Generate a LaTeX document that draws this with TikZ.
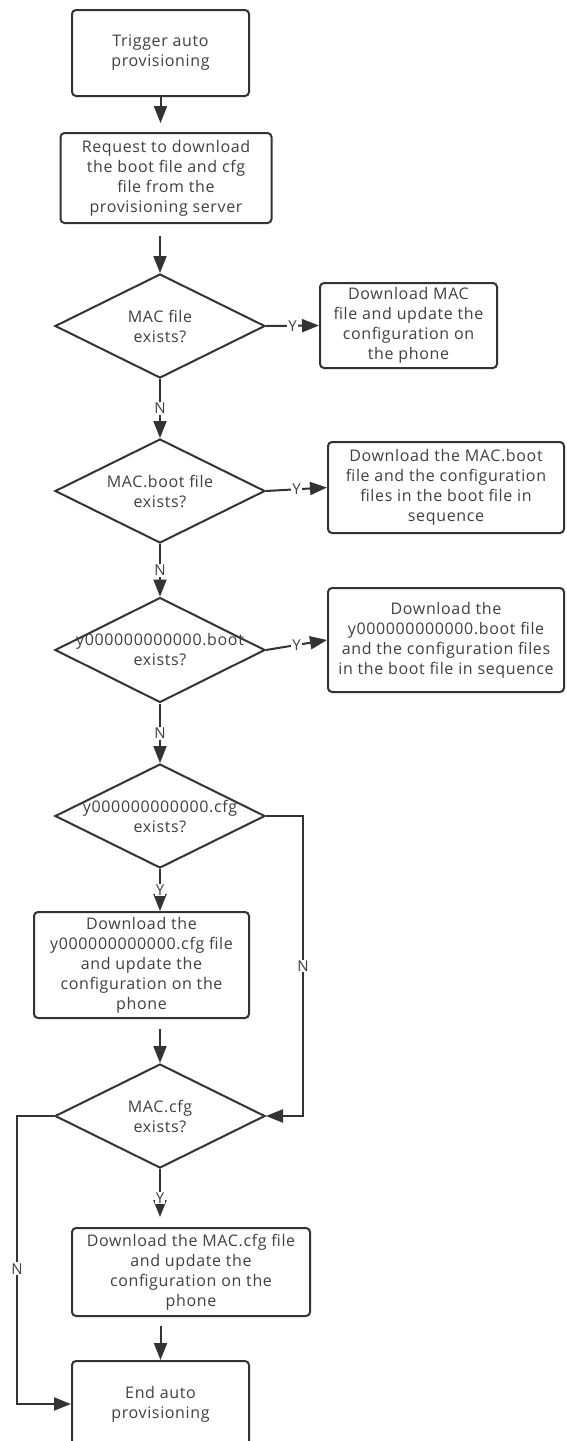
\documentclass[tikz,border=0pt]{standalone}
\usepackage{fontspec}
\setmainfont{Open Sans}[LetterSpace=4.0]
\usetikzlibrary{arrows.meta,shapes.geometric}
\definecolor{lc}{HTML}{333333}
\definecolor{tc}{HTML}{404040}
\begin{document}
\begin{tikzpicture}[x=1pt,y=-1pt,
  box/.style={draw=lc, line width=2pt, rounded corners=4pt, fill=white, align=center, inner sep=0pt, text=tc, font=\fontsize{16pt}{20pt}\selectfont},
  dia/.style={draw=lc, line width=2pt, diamond, inner sep=0pt, minimum width=210pt, minimum height=104pt},
  txt/.style={align=center, text=tc, inner sep=0pt, font=\fontsize{16pt}{20pt}\selectfont},
  arr/.style={draw=lc, line width=2pt, -{Triangle[length=17pt,width=13pt]}},
  lbl/.style={fill=white, inner sep=1pt, text=tc, font=\fontsize{15pt}{18pt}\selectfont}]
\clip (0,0) rectangle (566,1441);
\fill[white] (0,0) rectangle (566,1441);
% nodes
\node[box, minimum width=177pt, minimum height=86pt] (b1) at (160.5,53) {Trigger auto\\provisioning};
\node[box, minimum width=211pt, minimum height=90pt] (b2) at (166,178) {Request to download\\the boot file and cfg\\file from the\\provisioning server};
\node[dia] (d1) at (160,326) {};
\node[txt] (t1) at (d1) {MAC file\\exists?};
\node[box, minimum width=177pt, minimum height=85pt] (m1) at (408.5,325.5) {Download MAC\\file and update the\\configuration on\\the phone};
\node[dia] (d2) at (160,491) {};
\node[txt] (t2) at (d2) {MAC.boot file\\exists?};
\node[box, minimum width=236pt, minimum height=91pt] (m2) at (446,487.5) {Download the MAC.boot\\file and the configuration\\files in the boot file in\\sequence};
\node[dia, minimum height=105pt] (d3) at (160,650) {};
\node[txt] (t3) at (d3) {y000000000000.boot\\exists?};
\node[box, minimum width=236pt, minimum height=104pt] (m3) at (446,640) {Download the\\y000000000000.boot file\\and the configuration files\\in the boot file in sequence};
\node[dia] (d4) at (160,816) {};
\node[txt] (t4) at (d4) {y000000000000.cfg\\exists?};
\node[box, minimum width=215pt, minimum height=106pt] (c1) at (141.5,965) {Download the\\y000000000000.cfg file\\and update the\\configuration on the\\phone};
\node[dia] (d5) at (160,1116) {};
\node[txt] (t5) at (d5) {MAC.cfg\\exists?};
\node[box, minimum width=238pt, minimum height=88pt] (c2) at (191,1272) {Download the MAC.cfg file\\and update the\\configuration on the\\phone};
\node[box, minimum width=177pt, minimum height=86pt] (e) at (160.5,1404) {End auto\\provisioning};
\coordinate (r1) at (303,816);
\coordinate (r2) at (303,1116);
\coordinate (l1) at (17,1116);
\coordinate (l2) at (17,1404);
% connectors
\draw[arr, shorten >=9pt] (b1.south) -- (b1.south |- b2.north);
\draw[arr, shorten <=12pt] (d1.north |- b2.south) -- (d1.north);
\draw[arr] (d1.east) -- node[lbl]{Y} (m1.west);
\draw[arr] (d1.south) -- node[lbl]{N} (d2.north);
\draw[arr] (d2.east) -- node[lbl]{Y} (m2.west);
\draw[arr] (d2.south) -- node[lbl]{N} (d3.north);
\draw[arr] (d3.east) -- node[lbl]{Y} (m3.west);
\draw[arr] (d3.south) -- node[lbl]{N} (d4.north);
\draw[arr] (d4.south) -- node[lbl]{Y} (d4.south |- c1.north);
\draw[arr] (d4.east) -- (r1) -- node[lbl]{N} (r2) -- (d5.east);
\draw[arr, shorten <=10pt] (d5.north |- c1.south) -- (d5.north);
\draw[arr, shorten >=10pt] (d5.south) -- node[lbl]{Y} (d5.south |- c2.north);
\draw[arr, shorten <=9pt] (e.north |- c2.south) -- (e.north);
\draw[arr] (d5.west) -- (l1) -- node[lbl, pos=0.53]{N} (l2) -- (e.west);
\end{tikzpicture}
\end{document}
